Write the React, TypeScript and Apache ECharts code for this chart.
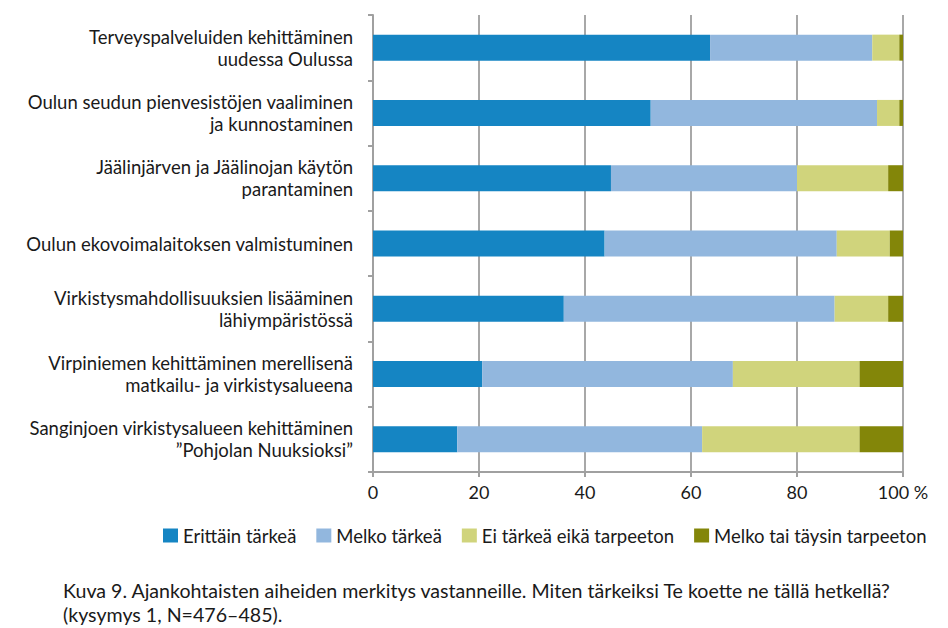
import React, { useEffect, useRef } from "react";
import * as echarts from "echarts";

const categories = [
  "Terveyspalveluiden kehittäminen\nuudessa Oulussa",
  "Oulun seudun pienvesistöjen vaaliminen\nja kunnostaminen",
  "Jäälinjärven ja Jäälinojan käytön\nparantaminen",
  "Oulun ekovoimalaitoksen valmistuminen",
  "Virkistysmahdollisuuksien lisääminen\nlähiympäristössä",
  "Virpiniemen kehittäminen merellisenä\nmatkailu- ja virkistysalueena",
  "Sanginjoen virkistysalueen kehittäminen\n”Pohjolan Nuuksioksi”",
];

const seriesNames = [
  "Erittäin tärkeä",
  "Melko tärkeä",
  "Ei tärkeä eikä tarpeeton",
  "Melko tai täysin tarpeeton",
];

const erittainTarkea = [63.6, 52.4, 44.9, 43.7, 36.0, 20.6, 15.9];
const melkoTarkea = [30.6, 42.7, 35.1, 43.8, 51.1, 47.3, 46.2];
const eiTarkea = [5.1, 4.2, 17.2, 10.0, 10.1, 23.9, 29.7];
const tarpeeton = [0.7, 0.7, 2.8, 2.5, 2.8, 8.2, 8.2];

const xTicks = [0, 20, 40, 60, 80, 100];

const captionLines = [
  "Kuva 9. Ajankohtaisten aiheiden merkitys vastanneille. Miten tärkeiksi Te koette ne tällä hetkellä?",
  "(kysymys 1, N=476–485).",
];

const colors = ["#1585C3", "#92B7DE", "#D0D47C", "#838609"];
const FONT = "Lato, 'Open Sans', sans-serif";

export default function App() {
  const ref = useRef<HTMLDivElement>(null);
  useEffect(() => {
    if (!ref.current) return;
    const chart = echarts.init(ref.current, undefined, { renderer: "svg" });
    const data = [erittainTarkea, melkoTarkea, eiTarkea, tarpeeton];
    chart.setOption({
      animation: false,
      textStyle: { fontFamily: FONT },
      grid: { left: 373, right: 45, top: 15, bottom: 156, containLabel: false },
      legend: {
        left: 158,
        top: 521,
        icon: "rect",
        itemWidth: 15,
        itemHeight: 14,
        itemGap: 20,
        textStyle: { fontSize: 18.5, color: "#1a1a1a", fontFamily: FONT },
        data: seriesNames,
      },
      xAxis: {
        type: "value",
        min: 0,
        max: 100,
        interval: 20,
        axisLine: { show: true, lineStyle: { color: "#a0a0a0", width: 2 } },
        axisTick: { show: true, length: 5, lineStyle: { color: "#a0a0a0", width: 2 } },
        splitLine: { show: true, lineStyle: { color: "#a8a8a8", width: 2 } },
        axisLabel: {
          fontSize: 18,
          color: "#1a1a1a",
          margin: 11,
          formatter: (v: number) => (v === 100 ? "100 %" : String(v)),
          customValues: xTicks,
        },
      },
      yAxis: {
        type: "category",
        inverse: true,
        data: categories,
        axisLine: { show: true, lineStyle: { color: "#a0a0a0", width: 2 } },
        axisTick: { show: true, length: 5, lineStyle: { color: "#a0a0a0", width: 2 } },
        axisLabel: {
          fontSize: 18.5,
          color: "#1a1a1a",
          margin: 20,
          lineHeight: 22,
          align: "right",
          padding: [0, 0, 3, 0],
        },
      },
      series: seriesNames.map((name, i) => ({
        name,
        type: "bar",
        stack: "total",
        barWidth: 26,
        data: data[i],
        itemStyle: { color: colors[i] },
      })),
      graphic: captionLines.map((t, i) => ({
        type: "text",
        x: 63,
        y: 590 + i * 24,
        style: {
          text: t,
          fontSize: 19.6,
          fill: "#1a1a1a",
          fontFamily: FONT,
          verticalAlign: "middle",
        },
      })),
    });
    return () => chart.dispose();
  }, []);
  return (
    <div
      ref={ref}
      style={{ position: "absolute", left: 0, top: 0, width: 948, height: 628 }}
    />
  );
}
